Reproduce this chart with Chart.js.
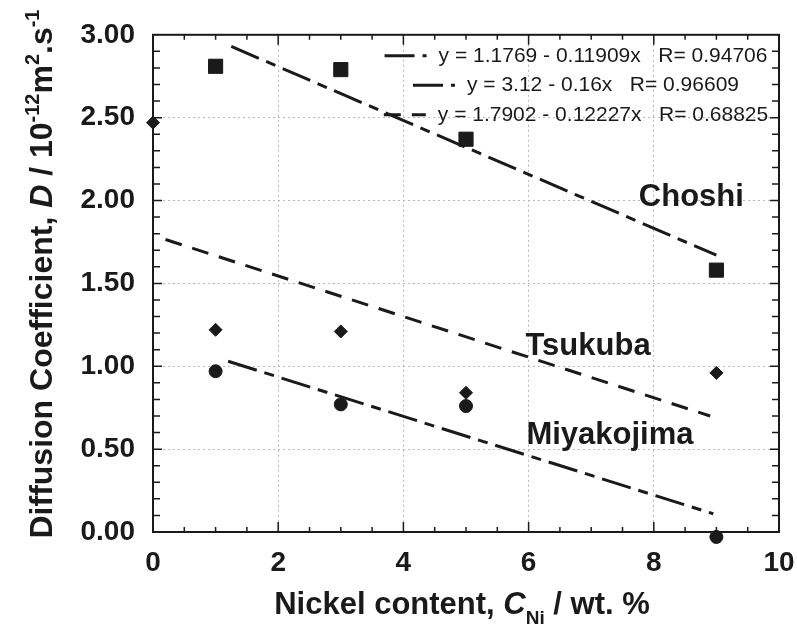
<!DOCTYPE html>
<html>
<head>
<meta charset="utf-8">
<script src="https://cdn.jsdelivr.net/npm/chart.js@4.4.1/dist/chart.umd.min.js"></script>
<style>
html,body{margin:0;padding:0;background:#fff}
</style>
</head>
<body>
<canvas id="chart" width="797" height="630"></canvas>
<script>
// measured points, x = Ni content in wt.%
const choshiX = [1, 3, 5, 9];
const choshiD = [2.81, 2.79, 2.37, 1.58];
const tsukubaX = [0, 1, 3, 5, 9];
const tsukubaD = [2.47, 1.22, 1.21, 0.84, 0.96];
const miyakoX = [1, 3, 5, 9];
const miyakoD = [0.97, 0.77, 0.76, -0.03];

// ends of the fitted lines
const choshiFitX = [1.25, 9.0];
const choshiFitD = [2.93, 1.67];
const tsukubaFitX = [0.2, 8.9];
const tsukubaFitD = [1.765, 0.70];
const miyakoFitX = [1.2, 8.95];
const miyakoFitD = [1.03, 0.11];

const fitLabels = [
    "y = 1.1769 - 0.11909x   R= 0.94706",
    "y = 3.12 - 0.16x   R= 0.96609",
    "y = 1.7902 - 0.12227x   R= 0.68825"
];
const siteNames = ["Choshi", "Tsukuba", "Miyakojima"];
const siteLabelAt = [[8.6, 2.02], [6.95, 1.12], [7.3, 0.58]];

const xMin = 0, xMax = 10, xStep = 2;
const yMin = 0, yMax = 3, yStep = 0.5;

const INK = "#1a1a1a";
const FONT = '"Liberation Sans", Arial, sans-serif';
const dashChoshi = [30, 8, 10, 8];
const dashTsukuba = [17, 11];
const dashMiyako = [30, 8, 10, 8];

function pts(xs, ys){
    return xs.map((x, i) => ({x: x, y: ys[i]}));
}

function marks(label, xs, ys, style, r){
    return {
        type: "scatter", label: label, data: pts(xs, ys),
        pointStyle: style, pointRadius: r, pointHoverRadius: r,
        backgroundColor: INK, borderColor: INK, borderWidth: 1, clip: false
    };
}

function fit(label, xs, ys, dash){
    return {
        type: "line", label: label, data: pts(xs, ys),
        borderColor: INK, borderWidth: 3, borderDash: dash,
        pointRadius: 0, fill: false, tension: 0, clip: false
    };
}

// text with italics, superscripts and subscripts, centred on 0,0
function richText(ctx, parts, size){
    let segs = parts.map(([t, s]) => {
        let small = s === "sup" || s === "sub";
        let font = (s === "i" ? "italic " : "") + "bold " + Math.round(small ? size * 0.62 : size) + "px " + FONT;
        ctx.font = font;
        return {t: t, font: font, w: ctx.measureText(t).width,
            dy: s === "sup" ? -size * 0.4 : (s === "sub" ? size * 0.32 : 0)};
    });
    let total = segs.reduce((a, s) => a + s.w, 0);
    let x = -total / 2;
    segs.forEach(s => {
        ctx.font = s.font;
        ctx.fillText(s.t, x, s.dy);
        x += s.w;
    });
}

const framePlugin = {
    id: "frame",
    beforeDatasetsDraw(chart){
        const {ctx, chartArea: a, scales: {x, y}} = chart;
        ctx.save();
        ctx.strokeStyle = INK;
        ctx.lineWidth = 2;
        ctx.strokeRect(a.left, a.top, a.right - a.left, a.bottom - a.top);
        ctx.lineWidth = 1.5;
        ctx.beginPath();
        // x ticks every 0.5, inward at bottom and top
        for (let i = 1; i < 20; i++){
            let v = xMin + i * 0.5;
            let px = x.getPixelForValue(v);
            let len = (i % 4 === 0) ? 10 : 5;
            ctx.moveTo(px, a.bottom); ctx.lineTo(px, a.bottom - len);
            ctx.moveTo(px, a.top); ctx.lineTo(px, a.top + len);
        }
        // y ticks every 0.1, inward at left and right
        for (let i = 1; i < 30; i++){
            let v = yMin + i * 0.1;
            let py = y.getPixelForValue(v);
            let len = (i % 5 === 0) ? 9 : 7;
            ctx.moveTo(a.left, py); ctx.lineTo(a.left + len, py);
            ctx.moveTo(a.right, py); ctx.lineTo(a.right - len, py);
        }
        ctx.stroke();
        ctx.restore();
    },
    afterDatasetsDraw(chart){
        const {ctx, chartArea: a, scales: {x, y}} = chart;
        ctx.save();
        ctx.fillStyle = INK;
        ctx.strokeStyle = INK;

        // fit legend, inside the plot at top right
        ctx.font = "21px " + FONT;
        ctx.textBaseline = "middle";
        ctx.textAlign = "center";
        const legendSets = [chart.data.datasets[0], chart.data.datasets[1], chart.data.datasets[2]];
        const cx = a.right - 176;
        legendSets.forEach((ds, i) => {
            let ty = a.top + 21 + i * 29.5;
            let w = ctx.measureText(fitLabels[i]).width;
            ctx.fillText(fitLabels[i], cx, ty);
            let x1 = cx - w / 2 - 12;
            ctx.save();
            ctx.lineWidth = 3;
            ctx.setLineDash(ds.borderDash);
            ctx.beginPath();
            ctx.moveTo(x1 - 42, ty);
            ctx.lineTo(x1, ty);
            ctx.stroke();
            ctx.restore();
        });

        // site names
        ctx.font = "bold 31px " + FONT;
        siteNames.forEach((n, i) => {
            ctx.fillText(n, x.getPixelForValue(siteLabelAt[i][0]), y.getPixelForValue(siteLabelAt[i][1]));
        });

        // axis titles
        ctx.textAlign = "left";
        ctx.textBaseline = "alphabetic";
        ctx.save();
        ctx.translate(462, 614);
        richText(ctx, [["Nickel content, ", ""], ["C", "i"], ["Ni", "sub"], [" / wt. %", ""]], 31);
        ctx.restore();

        ctx.save();
        ctx.translate(52, 274);
        ctx.rotate(-Math.PI / 2);
        richText(ctx, [["Diffusion Coefficient, ", ""], ["D", "i"], [" / 10", ""], ["-12", "sup"],
            ["m", ""], ["2", "sup"], [".s", ""], ["-1", "sup"]], 32);
        ctx.restore();

        ctx.restore();
    }
};

new Chart(document.getElementById("chart"), {
    data: {
        datasets: [
            fit("Miyakojima fit", miyakoFitX, miyakoFitD, dashMiyako),
            fit("Choshi fit", choshiFitX, choshiFitD, dashChoshi),
            fit("Tsukuba fit", tsukubaFitX, tsukubaFitD, dashTsukuba),
            marks("Choshi", choshiX, choshiD, "rect", 10),
            marks("Tsukuba", tsukubaX, tsukubaD, "rectRot", 6.5),
            marks("Miyakojima", miyakoX, miyakoD, "circle", 6.5)
        ]
    },
    options: {
        responsive: false,
        animation: false,
        devicePixelRatio: 1,
        layout: {padding: {top: 33, right: 0, left: 0, bottom: 0}},
        plugins: {legend: {display: false}, tooltip: {enabled: false}},
        scales: {
            x: {
                type: "linear", min: xMin, max: xMax,
                afterFit: s => { s.height = 98; s.paddingRight = 18; s.paddingLeft = 0; },
                ticks: {stepSize: xStep, color: INK, padding: 14,
                    font: {family: FONT, size: 28, weight: "bold"}},
                grid: {drawTicks: false,
                    color: c => (c.tick && (c.tick.value === xMin || c.tick.value === xMax)) ? "rgba(0,0,0,0)" : "#b8b8b8"},
                border: {display: false, dash: [2, 3]}
            },
            y: {
                type: "linear", min: yMin, max: yMax,
                afterFit: s => { s.width = 153; },
                ticks: {stepSize: yStep, color: INK, padding: 18,
                    callback: v => v.toFixed(2),
                    font: {family: FONT, size: 28, weight: "bold"}},
                grid: {drawTicks: false,
                    color: c => (c.tick && (c.tick.value === yMin || c.tick.value === yMax)) ? "rgba(0,0,0,0)" : "#b8b8b8"},
                border: {display: false, dash: [2, 3]}
            }
        }
    },
    plugins: [framePlugin]
});
</script>
</body>
</html>
